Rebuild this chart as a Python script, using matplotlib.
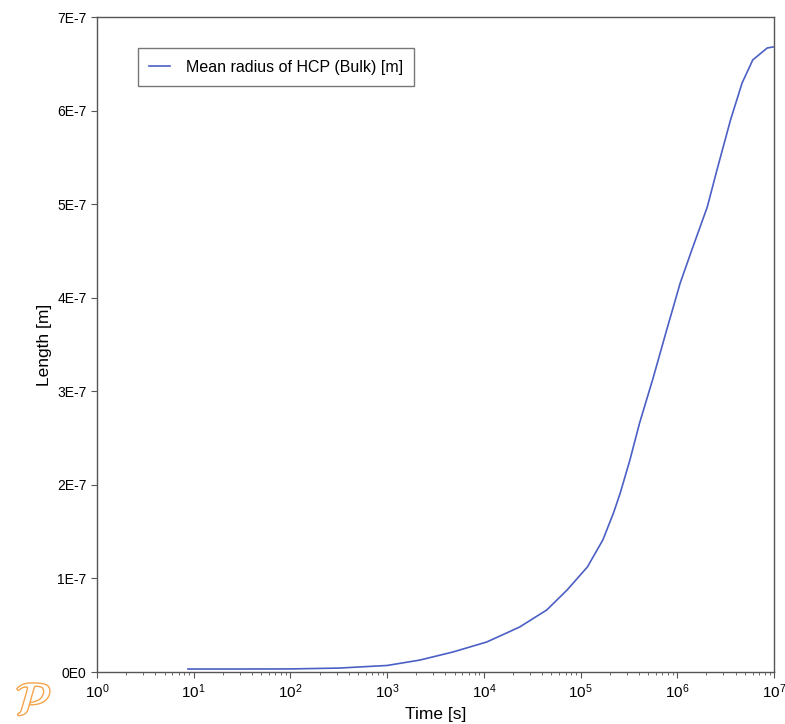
import numpy as np
import matplotlib
matplotlib.use("Agg")
import matplotlib.pyplot as plt
import matplotlib.patheffects as pe
from matplotlib.ticker import FixedLocator, LogLocator, NullFormatter

plt.rcParams["font.family"] = ["Liberation Sans", "DejaVu Sans"]
plt.rcParams["mathtext.fontset"] = "dejavusans"

# Mean radius of HCP precipitates vs. time (log10 of time in s, radius in units of 1e-7 m)
log_time = [0.94, 1.5, 2.0, 2.5, 3.0, 3.34, 3.68, 4.03, 4.37, 4.65, 4.86,
            5.07, 5.23, 5.34, 5.41, 5.51, 5.61, 5.75, 5.89, 6.03, 6.15,
            6.31, 6.41, 6.55, 6.67, 6.78, 6.93, 6.99]
radius_e7 = [0.032, 0.032, 0.033, 0.042, 0.070, 0.128, 0.214, 0.321, 0.481, 0.663, 0.876,
             1.122, 1.411, 1.699, 1.913, 2.266, 2.661, 3.142, 3.655, 4.157, 4.510,
             4.970, 5.365, 5.899, 6.295, 6.541, 6.669, 6.680]

time_s = 10.0 ** np.array(log_time)
radius_m = np.array(radius_e7) * 1e-7

y_ticks = [0, 1e-7, 2e-7, 3e-7, 4e-7, 5e-7, 6e-7, 7e-7]
y_tick_labels = ["0E0", "1E-7", "2E-7", "3E-7", "4E-7", "5E-7", "6E-7", "7E-7"]

fig = plt.figure(figsize=(7.85, 7.24), dpi=100)
ax = fig.add_axes([0.1236, 0.0718, 0.8624, 0.9047])

ax.plot(time_s, radius_m, color="#4b5fc4", lw=1.2, solid_joinstyle="round",
        label="Mean radius of HCP (Bulk) [m]")

ax.set_xscale("log")
ax.set_xlim(1, 1e7)
ax.set_ylim(0, 7e-7)
ax.xaxis.set_major_locator(LogLocator(base=10, numticks=10))
ax.xaxis.set_minor_locator(LogLocator(base=10, subs=np.arange(2, 10), numticks=20))
ax.xaxis.set_minor_formatter(NullFormatter())
ax.yaxis.set_major_locator(FixedLocator(y_ticks))
ax.set_yticklabels(y_tick_labels)

for side in ["left", "bottom", "top", "right"]:
    ax.spines[side].set_color("#555555")
    ax.spines[side].set_linewidth(1.0)
ax.tick_params(axis="both", which="major", direction="out", length=4,
               color="#555555", labelsize=10)
ax.tick_params(axis="x", which="major", labelsize=11)
ax.tick_params(axis="x", which="minor", direction="out", length=2.5,
               color="#555555")

ax.set_xlabel("Time [s]", fontsize=12.5)
ax.set_ylabel("Length [m]", fontsize=12.5)

leg = ax.legend(loc="upper left", bbox_to_anchor=(0.06, 0.952), fontsize=11.5,
                frameon=True, fancybox=False, handlelength=1.3,
                borderpad=0.7, handletextpad=1.0, borderaxespad=0)
leg.get_frame().set_edgecolor("#555555")
leg.get_frame().set_linewidth(1.0)

# small logo mark in the lower-left corner
fig.text(0.02, 0.012, r"$\mathcal{P}$", fontsize=34, color="white",
         path_effects=[pe.withStroke(linewidth=2.0, foreground="#f5a44a")])

fig.savefig("out.png", dpi=100)
